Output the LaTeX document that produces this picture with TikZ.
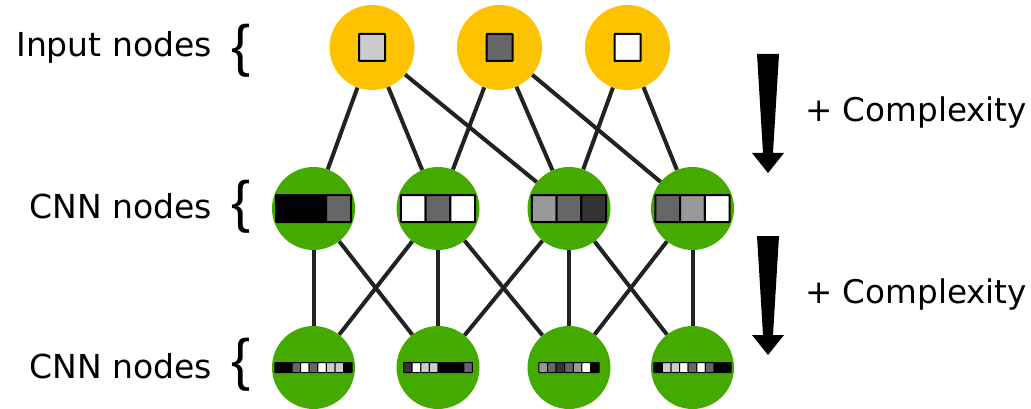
\documentclass[tikz,border=0pt]{standalone}
\usepackage{fontspec}
\setmainfont{DejaVu Sans}
\newfontfamily\bracefont{Liberation Sans}
\definecolor{inyellow}{HTML}{FDC300}
\definecolor{cnngreen}{HTML}{44AA00}
\definecolor{edgecol}{HTML}{222222}
\definecolor{gA}{HTML}{CCCCCC}
\definecolor{gB}{HTML}{999999}
\definecolor{gC}{HTML}{666666}
\definecolor{gD}{HTML}{333333}
\newcommand{\cellrow}[5]{% node, cell w, cell h, line width, colours
  \foreach \cc [count=\ii] in {#5} {\xdef\ncells{\ii}}
  \foreach \cc [count=\ii] in {#5} {
    \path[fill=\cc, draw=black, line width=#4, rounded corners=0.5pt]
      ([xshift={(\ii-1-\ncells/2)*#2}, yshift={#3/2}]#1.center) rectangle ++(#2,#3);
  }
}
\begin{document}
\begin{tikzpicture}[x=1pt,y=-1pt,
  innode/.style={circle, fill=inyellow, minimum size=85pt, inner sep=0pt},
  cnnnode/.style={circle, fill=cnngreen, minimum size=83pt, inner sep=0pt},
  link/.style={draw=edgecol, line width=4pt},
  lab/.style={font=\fontsize{33}{40}\selectfont, inner sep=0pt, anchor=base east},
  brc/.style={font=\bracefont\fontsize{57}{64}\selectfont, inner sep=0pt},
  cplx/.style={font=\fontsize{32.6}{40}\selectfont, inner sep=0pt, anchor=base west},
  bigarrow/.style={fill=black}
]
\useasboundingbox (0,0) rectangle (1031,409);

% nodes
\node[innode] (i1) at (372,47.5) {};
\node[innode] (i2) at (499.5,47.5) {};
\node[innode] (i3) at (627.5,47.5) {};
\node[cnnnode] (m1) at (313.5,208.5) {};
\node[cnnnode] (m2) at (438,208.5) {};
\node[cnnnode] (m3) at (569,208.5) {};
\node[cnnnode] (m4) at (692.5,208.5) {};
\node[cnnnode] (b1) at (313.5,367.5) {};
\node[cnnnode] (b2) at (438,367.5) {};
\node[cnnnode] (b3) at (569,367.5) {};
\node[cnnnode] (b4) at (692.5,367.5) {};

% connectors
\foreach \a/\b in {i1/m1,i1/m2,i1/m3,i2/m2,i2/m3,i2/m4,i3/m3,i3/m4,
                   m1/b1,m1/b2,m2/b1,m2/b2,m2/b3,m3/b2,m3/b3,m3/b4,m4/b3,m4/b4}
  \draw[link] (\a) -- (\b);

% input squares
\cellrow{i1}{26}{27}{2pt}{gA}
\cellrow{i2}{26}{27}{2pt}{gC}
\cellrow{i3}{26}{27}{2pt}{white}

% middle strips
\cellrow{m1}{25}{27}{2pt}{black,black,gC}
\cellrow{m2}{24.7}{27}{2pt}{white,gC,white}
\cellrow{m3}{24.7}{27}{2pt}{gB,gC,gD}
\cellrow{m4}{24.7}{27}{2pt}{gC,gB,white}

% bottom strips
\cellrow{b1}{8.6}{10}{1pt}{black,black,gC,white,gC,white,gA,gA,black}
\cellrow{b2}{8.6}{10}{1pt}{gD,white,gA,gA,black,black,black,gC}
\cellrow{b3}{8.6}{10}{1pt}{gB,gC,gD,gC,gB,white,black}
\cellrow{b4}{8.6}{10}{1pt}{black,gA,gA,white,gC,white,gC,black,black}

% labels
\node[lab] (l1) at (212,57) {Input nodes};
\node[lab] (l2) at (212,218) {CNN nodes};
\node[lab] (l3) at (212,378) {CNN nodes};
\node[brc] (br1) at (241,50.5) {\{};
\node[brc] (br2) at (241,207) {\{};
\node[brc] (br3) at (241,365) {\{};

% complexity arrows
\fill[bigarrow] (757,54) -- (779,54) -- (773,153) -- (784,153) -- (768,173) -- (752,153) -- (763,153) -- cycle;
\fill[bigarrow] (757,236) -- (779,236) -- (773,335) -- (784,335) -- (768,355) -- (752,335) -- (763,335) -- cycle;
\node[cplx] (c1) at (805,122) {+ Complexity};
\node[cplx] (c2) at (805,303) {+ Complexity};
\end{tikzpicture}
\end{document}
